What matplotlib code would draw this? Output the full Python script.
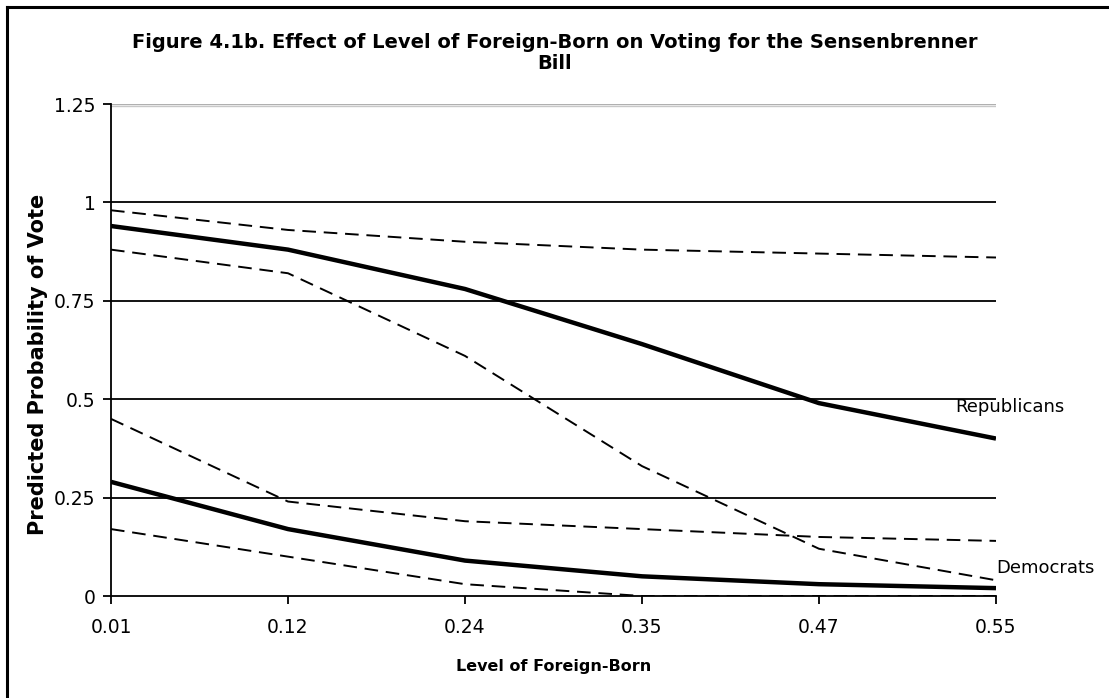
import matplotlib
matplotlib.use("Agg")
import matplotlib.pyplot as plt
from matplotlib.lines import Line2D

categories = ["0.01", "0.12", "0.24", "0.35", "0.47", "0.55"]
rep_mean = [0.94, 0.88, 0.78, 0.64, 0.49, 0.40]
rep_upper = [0.98, 0.93, 0.90, 0.88, 0.87, 0.86]
rep_lower = [0.88, 0.82, 0.61, 0.33, 0.12, 0.04]
dem_mean = [0.29, 0.17, 0.09, 0.05, 0.03, 0.02]
dem_upper = [0.45, 0.24, 0.19, 0.17, 0.15, 0.14]
dem_lower = [0.17, 0.10, 0.03, 0.00, 0.00, 0.00]
yticks = [0, 0.25, 0.5, 0.75, 1, 1.25]
ytick_labels = ["0", "0.25", "0.5", "0.75", "1", "1.25"]

plt.rcParams['font.family'] = ['DejaVu Sans']
fig = plt.figure(figsize=(11.09, 6.98), dpi=100)
ax = fig.add_axes([111/1109, 1-596/698, (996-111)/1109, (596-104)/698])

x = list(range(len(categories)))
for v in yticks[1:-1]:
    ax.axhline(v, color='black', lw=1.3, zorder=1)
ax.axhline(1.25, color='#b0b0b0', lw=1.0, zorder=1)
ax.plot([0, len(categories)-1], [1.25 - 0.006, 1.25 - 0.006], color='#c8c8c8', lw=1.0, zorder=1)

dash = (0, (7, 4))
ax.plot(x, rep_mean, color='black', lw=3.2, solid_capstyle='butt', zorder=3)
ax.plot(x, dem_mean, color='black', lw=3.2, solid_capstyle='butt', zorder=3)
for s in (rep_upper, rep_lower, dem_upper, dem_lower):
    ax.plot(x, s, color='black', lw=1.4, linestyle=dash, zorder=2)

ax.set_xlim(0, len(categories)-1)
ax.set_ylim(0, 1.25)
ax.set_xticks(x)
ax.set_xticklabels(categories)
ax.set_yticks(yticks)
ax.set_yticklabels(ytick_labels)
ax.tick_params(axis='both', direction='out', length=6, width=1.3, labelsize=13.5, color='black')
ax.tick_params(axis='x', pad=10)
ax.tick_params(axis='y', pad=5)
for side in ('top', 'right'):
    ax.spines[side].set_visible(False)
for side in ('left', 'bottom'):
    ax.spines[side].set_linewidth(1.3)

ax.set_xlabel("Level of Foreign-Born", fontsize=11.5, fontweight='bold', labelpad=16)
fig.text(38/1109, 1-364/698, "Predicted Probability of Vote", rotation=90,
         ha='center', va='center', fontsize=15, fontweight='bold')

ax.text(4.77, 0.48, "Republicans", fontsize=13, ha='left', va='center', clip_on=False)
ax.text(5.0, 0.071, "Democrats", fontsize=13, ha='left', va='center', clip_on=False)

fig.text(555/1109, 1-53/698, "Figure 4.1b. Effect of Level of Foreign-Born on Voting for the Sensenbrenner\nBill",
         ha='center', va='center', fontsize=14, fontweight='bold', linespacing=1.1)

fig.add_artist(Line2D([7/1109, 1.0], [1-7/698, 1-7/698], color='black', lw=2.2, transform=fig.transFigure))
fig.add_artist(Line2D([7/1109, 7/1109], [0.0, 1-7/698], color='black', lw=2.2, transform=fig.transFigure))

fig.savefig("out.png", dpi=100)
